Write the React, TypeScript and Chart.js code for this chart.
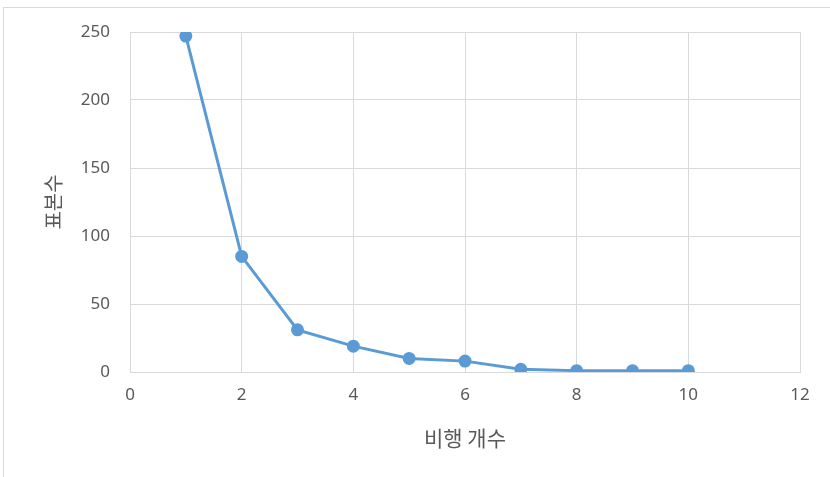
import React, { useEffect, useRef } from "react";
import { Chart, registerables } from "chart.js";

Chart.register(...registerables);

// 비행 개수별 표본수
const flightCounts = [1, 2, 3, 4, 5, 6, 7, 8, 9, 10];
const sampleCounts = [247, 85, 31, 19, 10, 8, 2, 1, 1, 1];

const xTitle = "비행 개수";
const yTitle = "표본수";

const xMin = 0;
const xMax = 12;
const xStep = 2;
const yMin = 0;
const yMax = 250;
const yStep = 50;

const W = 830;
const H = 477;
const LINE = "#5B9BD5";
const GRID = "#D9D9D9";
const TEXT = "#595959";
const TITLE_FONT = "'Noto Sans CJK KR', 'Noto Sans', sans-serif";
const TICK_FONT = "'Noto Sans', 'Open Sans', sans-serif";

export default function App() {
  const ref = useRef<HTMLCanvasElement | null>(null);

  useEffect(() => {
    const canvas = ref.current;
    if (!canvas) return;
    const chart = new Chart(canvas, {
      type: "line",
      data: {
        datasets: [
          {
            data: flightCounts.map((x, i) => ({ x, y: sampleCounts[i] })),
            borderColor: LINE,
            backgroundColor: LINE,
            borderWidth: 3,
            pointRadius: 5,
            pointHoverRadius: 5,
            pointBackgroundColor: LINE,
            pointBorderColor: LINE,
            tension: 0,
          },
        ],
      },
      options: {
        responsive: false,
        animation: false,
        events: [],
        layout: { padding: { left: 0, top: 32, right: 30, bottom: 0 } },
        plugins: {
          legend: { display: false },
          tooltip: { enabled: false },
        },
        scales: {
          x: {
            type: "linear",
            min: xMin,
            max: xMax,
            afterFit: (s: any) => {
              s.height = H - 372;
            },
            ticks: {
              stepSize: xStep,
              color: TEXT,
              padding: 13,
              font: { family: TICK_FONT, size: 17 },
            },
            grid: { color: GRID, lineWidth: 1, drawTicks: false },
            border: { color: GRID, width: 1 },
            title: {
              display: true,
              text: xTitle,
              color: TEXT,
              font: { family: TITLE_FONT, size: 21 },
              padding: { top: 0, bottom: 26 },
            },
          },
          y: {
            min: yMin,
            max: yMax,
            afterFit: (s: any) => {
              s.width = 130;
            },
            ticks: {
              stepSize: yStep,
              color: TEXT,
              padding: 20,
              font: { family: TICK_FONT, size: 17 },
            },
            grid: { color: GRID, lineWidth: 1, drawTicks: false },
            border: { color: GRID, width: 1 },
            title: {
              display: true,
              text: yTitle,
              color: TEXT,
              font: { family: TITLE_FONT, size: 20 },
              padding: { top: 41, bottom: 0 },
            },
          },
        },
      },
    });
    return () => chart.destroy();
  }, []);

  return (
    <div
      style={{
        position: "fixed",
        left: 0,
        top: 0,
        width: W,
        height: H,
        overflow: "hidden",
        background: "#fff",
      }}
    >
      <div
        style={{
          position: "absolute",
          left: 3,
          top: 7,
          width: W + 10,
          height: H + 10,
          border: `1px solid ${GRID}`,
          boxSizing: "border-box",
        }}
      />
      <canvas
        ref={ref}
        width={W}
        height={H}
        style={{ position: "absolute", left: 0, top: 0, width: W, height: H }}
      />
    </div>
  );
}
